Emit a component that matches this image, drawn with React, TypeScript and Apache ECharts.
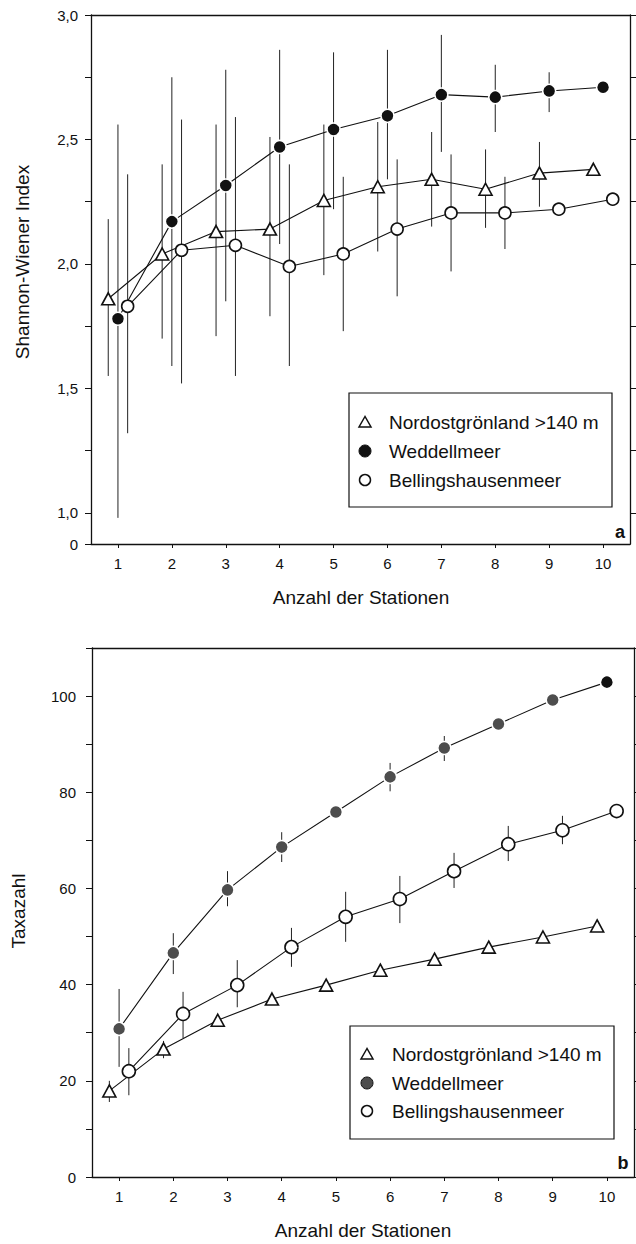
import React, { useEffect, useRef } from "react";
import * as echarts from "echarts";

// ---------- data ----------
const stations = [1, 2, 3, 4, 5, 6, 7, 8, 9, 10];
const seriesNames = ["Nordostgrönland >140 m", "Weddellmeer", "Bellingshausenmeer"];

// Panel a: Shannon-Wiener Index
const shannonNordost = [1.86, 2.04, 2.13, 2.14, 2.255, 2.31, 2.34, 2.3, 2.365, 2.38];
const shannonNordostHi = [2.18, 2.4, 2.56, 2.51, 2.56, 2.57, 2.53, 2.46, 2.49, null];
const shannonNordostLo = [1.55, 1.7, 1.71, 1.79, 1.955, 2.05, 2.15, 2.145, 2.23, null];

const shannonWeddell = [1.78, 2.17, 2.315, 2.47, 2.54, 2.595, 2.68, 2.67, 2.695, 2.71];
const shannonWeddellHi = [2.56, 2.75, 2.78, 2.86, 2.85, 2.86, 2.92, 2.8, 2.77, null];
const shannonWeddellLo = [0.98, 1.59, 1.85, 2.08, 2.22, 2.34, 2.45, 2.53, 2.61, null];

const shannonBelling = [1.83, 2.055, 2.075, 1.99, 2.04, 2.14, 2.205, 2.205, 2.22, 2.26];
const shannonBellingHi = [2.36, 2.58, 2.59, 2.4, 2.35, 2.42, 2.44, 2.35, null, null];
const shannonBellingLo = [1.32, 1.52, 1.55, 1.59, 1.73, 1.87, 1.97, 2.06, null, null];

const shannonTickValues = [0.875, 1, 1.25, 1.5, 1.75, 2, 2.25, 2.5, 2.75, 3];
const shannonLabelValues = [0.875, 1, 1.5, 2, 2.5, 3];
const shannonRightTicks = [1, 1.25, 1.5, 1.75, 2, 2.25, 2.5, 2.75, 3];

// Panel b: Taxazahl
const taxaNordost = [17.9, 26.6, 32.6, 37.0, 39.9, 43.0, 45.3, 47.8, 49.9, 52.2];
const taxaNordostHi = [20, 28.3, null, null, null, null, null, null, null, null];
const taxaNordostLo = [15.6, 24.7, null, null, null, null, null, null, null, null];

const taxaWeddell = [30.8, 46.6, 59.7, 68.6, 75.9, 83.2, 89.2, 94.2, 99.2, 102.9];
const taxaWeddellHi = [39.1, 50.7, 63.6, 71.7, null, 86.1, 91.7, null, null, null];
const taxaWeddellLo = [22.9, 42.2, 56.3, 65.5, null, 80.2, 86.5, null, null, null];

const taxaBelling = [22.0, 33.9, 39.9, 47.8, 54.1, 57.8, 63.6, 69.2, 72.1, 76.1];
const taxaBellingHi = [26.8, 38.5, 45.1, 51.8, 59.3, 62.6, 67.4, 73.0, 75.1, null];
const taxaBellingLo = [17.0, 28.9, 35.3, 43.7, 48.9, 52.8, 60.1, 65.7, 69.2, null];

const taxaTickValues = [0, 10, 20, 30, 40, 50, 60, 70, 80, 90, 100, 110];
const taxaLabelValues = [0, 20, 40, 60, 80, 100];

// ---------- style ----------
const FONT = "'Liberation Sans', Arial, Helvetica, sans-serif";
const INK = "#111";
const OFFSETS = [-0.18, 0, 0.18];

const pts = (vals: number[], off: number) => stations.map((s, i) => [s + off, vals[i]]);
const bars = (lo: (number | null)[], hi: (number | null)[], off: number) =>
  stations
    .map((s, i) => [s + off, lo[i], hi[i]])
    .filter((d) => d[1] != null && d[2] != null);

const errRender = (params: any, api: any) => {
  const x = api.value(0);
  const p1 = api.coord([x, api.value(1)]);
  const p2 = api.coord([x, api.value(2)]);
  return {
    type: "line",
    shape: { x1: p1[0], y1: p1[1], x2: p2[0], y2: p2[1] },
    style: { stroke: "#222", lineWidth: 1 },
  };
};

function xAxes(grid: number) {
  return [
    {
      gridIndex: grid,
      type: "value",
      min: 0.5,
      max: 10.5,
      position: "bottom",
      axisLine: { show: true, onZero: false, lineStyle: { color: INK, width: 1.3 } },
      axisTick: { show: true, customValues: stations, length: 4, lineStyle: { color: INK } },
      axisLabel: { show: true, customValues: stations, fontSize: 15, margin: 12, color: INK, fontFamily: FONT },
      splitLine: { show: false },
    },
    {
      gridIndex: grid,
      type: "value",
      min: 0.5,
      max: 10.5,
      position: "top",
      axisLine: { show: true, onZero: false, lineStyle: { color: INK, width: 1.3 } },
      axisTick: { show: false },
      axisLabel: { show: false },
      splitLine: { show: false },
    },
  ];
}

function legendGraphic(x: number, y: number, w: number, h: number, rows: number[], mx: number, tx: number, wedFill: string, r: number) {
  const children: any[] = [
    { type: "rect", shape: { x, y, width: w, height: h }, style: { fill: "#fff", stroke: INK, lineWidth: 1.2 } },
    {
      type: "polygon",
      shape: { points: [[mx, rows[0] - 5.5], [mx - 6, rows[0] + 5], [mx + 6, rows[0] + 5]] },
      style: { fill: "#fff", stroke: INK, lineWidth: 1.5 },
    },
    { type: "circle", shape: { cx: mx, cy: rows[1], r }, style: { fill: wedFill, stroke: INK, lineWidth: 1 } },
    { type: "circle", shape: { cx: mx, cy: rows[2], r: r - 0.5 }, style: { fill: "#fff", stroke: INK, lineWidth: 1.5 } },
  ];
  seriesNames.forEach((n, i) => {
    children.push({
      type: "text",
      x: tx,
      y: rows[i],
      style: { text: n, fontSize: 19, fontFamily: FONT, fill: INK, textAlign: "left", textVerticalAlign: "middle" },
    });
  });
  return { type: "group", z: 100, children };
}

function buildOption() {
  const lineCommon = { type: "line", z: 3, lineStyle: { color: INK, width: 1.1 }, showSymbol: true };
  const errCommon = { type: "custom", z: 1, renderItem: errRender, silent: true };

  const series: any[] = [
    // panel a error bars
    { ...errCommon, xAxisIndex: 0, yAxisIndex: 0, data: bars(shannonNordostLo, shannonNordostHi, OFFSETS[0]) },
    { ...errCommon, xAxisIndex: 0, yAxisIndex: 0, data: bars(shannonWeddellLo, shannonWeddellHi, OFFSETS[1]) },
    { ...errCommon, xAxisIndex: 0, yAxisIndex: 0, data: bars(shannonBellingLo, shannonBellingHi, OFFSETS[2]) },
    // panel a lines
    {
      ...lineCommon, name: seriesNames[0], xAxisIndex: 0, yAxisIndex: 0,
      symbol: "triangle", symbolSize: [13, 12],
      itemStyle: { color: "#fff", borderColor: INK, borderWidth: 1.6 },
      data: pts(shannonNordost, OFFSETS[0]),
    },
    {
      ...lineCommon, name: seriesNames[1], xAxisIndex: 0, yAxisIndex: 0,
      symbol: "circle", symbolSize: 13,
      itemStyle: { color: INK, borderColor: "#fff", borderWidth: 1.5 },
      data: pts(shannonWeddell, OFFSETS[1]),
    },
    {
      ...lineCommon, name: seriesNames[2], xAxisIndex: 0, yAxisIndex: 0,
      symbol: "circle", symbolSize: 12,
      itemStyle: { color: "#fff", borderColor: INK, borderWidth: 1.6 },
      data: pts(shannonBelling, OFFSETS[2]),
    },
    // panel b error bars
    { ...errCommon, xAxisIndex: 2, yAxisIndex: 2, data: bars(taxaNordostLo, taxaNordostHi, OFFSETS[0]) },
    { ...errCommon, xAxisIndex: 2, yAxisIndex: 2, data: bars(taxaWeddellLo, taxaWeddellHi, OFFSETS[1]) },
    { ...errCommon, xAxisIndex: 2, yAxisIndex: 2, data: bars(taxaBellingLo, taxaBellingHi, OFFSETS[2]) },
    // panel b lines
    {
      ...lineCommon, name: seriesNames[0], xAxisIndex: 2, yAxisIndex: 2,
      symbol: "triangle", symbolSize: [13, 12],
      itemStyle: { color: "#fff", borderColor: INK, borderWidth: 1.6 },
      data: pts(taxaNordost, OFFSETS[0]),
    },
    {
      ...lineCommon, name: seriesNames[1], xAxisIndex: 2, yAxisIndex: 2,
      symbol: "circle", symbolSize: 13,
      itemStyle: { color: "#4d4d4d", borderColor: "#fff", borderWidth: 1.5 },
      data: pts(taxaWeddell, OFFSETS[1]).map((d, i) =>
        i === stations.length - 1 ? { value: d, itemStyle: { color: INK } } : d
      ),
    },
    {
      ...lineCommon, name: seriesNames[2], xAxisIndex: 2, yAxisIndex: 2,
      symbol: "circle", symbolSize: 13,
      itemStyle: { color: "#fff", borderColor: INK, borderWidth: 1.6 },
      data: pts(taxaBelling, OFFSETS[2]),
    },
  ];

  return {
    animation: false,
    backgroundColor: "#fff",
    textStyle: { fontFamily: FONT },
    grid: [
      { left: 91, top: 15, width: 539, height: 529, containLabel: false, outerBoundsMode: "none" },
      { left: 92, top: 648, width: 542, height: 529, containLabel: false, outerBoundsMode: "none" },
    ],
    xAxis: [...xAxes(0), ...xAxes(1)],
    yAxis: [
      {
        gridIndex: 0,
        type: "value",
        min: 0.875,
        max: 3.0,
        position: "left",
        axisLine: { show: true, onZero: false, lineStyle: { color: INK, width: 1.3 } },
        axisTick: { show: true, customValues: shannonTickValues, length: 6, lineStyle: { color: INK } },
        axisLabel: {
          show: true,
          customValues: shannonLabelValues,
          fontSize: 15,
          margin: 13,
          color: INK,
          fontFamily: FONT,
          formatter: (v: number) => (v < 0.9 ? "0" : v.toFixed(1).replace(".", ",")),
        },
        splitLine: { show: false },
      },
      {
        gridIndex: 0,
        type: "value",
        min: 0.875,
        max: 3.0,
        position: "right",
        axisLine: { show: true, onZero: false, lineStyle: { color: INK, width: 1.3 } },
        axisTick: { show: true, customValues: shannonRightTicks, length: 6, lineStyle: { color: INK } },
        axisLabel: { show: false },
        splitLine: { show: false },
      },
      {
        gridIndex: 1,
        type: "value",
        min: 0,
        max: 110,
        position: "left",
        axisLine: { show: true, onZero: false, lineStyle: { color: INK, width: 1.3 } },
        axisTick: { show: true, customValues: taxaTickValues, length: 6, lineStyle: { color: INK } },
        axisLabel: { show: true, customValues: taxaLabelValues, fontSize: 15, margin: 16, color: INK, fontFamily: FONT },
        splitLine: { show: false },
      },
      {
        gridIndex: 1,
        type: "value",
        min: 0,
        max: 110,
        position: "right",
        axisLine: { show: true, onZero: false, lineStyle: { color: INK, width: 1.3 } },
        axisTick: { show: true, customValues: taxaTickValues, length: 6, lineStyle: { color: INK } },
        axisLabel: { show: false },
        splitLine: { show: false },
      },
    ],
    series,
    graphic: [
      {
        type: "text", z: 100, x: 22, y: 262, rotation: Math.PI / 2,
        style: { text: "Shannon-Wiener Index", fontSize: 19, fontFamily: FONT, fill: INK, textAlign: "center", textVerticalAlign: "middle" },
      },
      {
        type: "text", z: 100, x: 361, y: 597,
        style: { text: "Anzahl der Stationen", fontSize: 19, fontFamily: FONT, fill: INK, textAlign: "center", textVerticalAlign: "middle" },
      },
      {
        type: "text", z: 100, x: 18, y: 911, rotation: Math.PI / 2,
        style: { text: "Taxazahl", fontSize: 19, fontFamily: FONT, fill: INK, textAlign: "center", textVerticalAlign: "middle" },
      },
      {
        type: "text", z: 100, x: 363, y: 1230,
        style: { text: "Anzahl der Stationen", fontSize: 19, fontFamily: FONT, fill: INK, textAlign: "center", textVerticalAlign: "middle" },
      },
      {
        type: "text", z: 100, x: 620, y: 532,
        style: { text: "a", fontSize: 18, fontWeight: "bold", fontFamily: FONT, fill: INK, textAlign: "center", textVerticalAlign: "middle" },
      },
      {
        type: "text", z: 100, x: 623, y: 1163,
        style: { text: "b", fontSize: 18, fontWeight: "bold", fontFamily: FONT, fill: INK, textAlign: "center", textVerticalAlign: "middle" },
      },
      legendGraphic(349, 393, 263, 114, [422, 451, 480], 365, 389, INK, 6),
      legendGraphic(350, 1026, 264, 113, [1054, 1083, 1111], 367, 392, "#4d4d4d", 6),
    ],
  };
}

export default function App() {
  const ref = useRef<HTMLDivElement>(null);
  useEffect(() => {
    if (!ref.current) return;
    const chart = echarts.init(ref.current, null, { renderer: "svg" });
    chart.setOption(buildOption() as any);
    return () => chart.dispose();
  }, []);
  return (
    <div
      ref={ref}
      style={{ position: "absolute", left: 0, top: 0, width: 636, height: 1244, background: "#fff" }}
    />
  );
}
